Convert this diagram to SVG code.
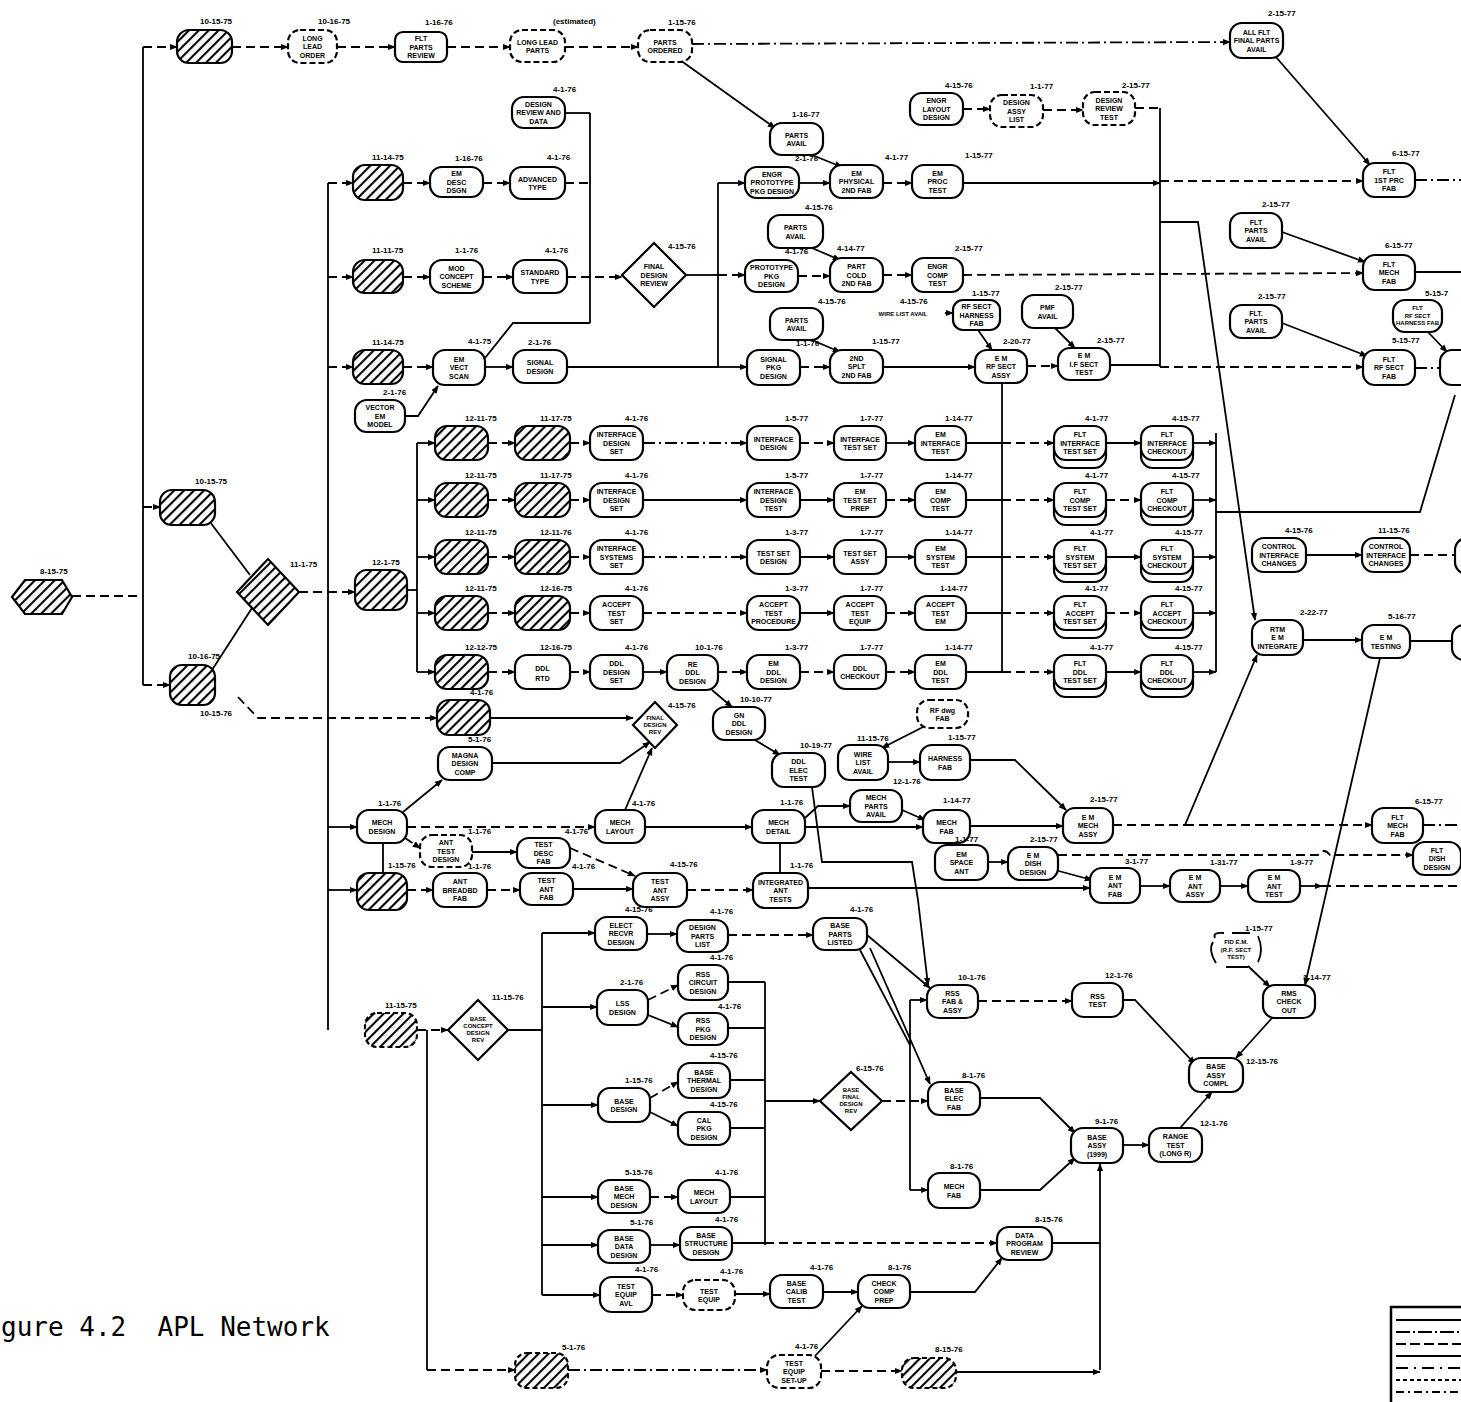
<svg xmlns="http://www.w3.org/2000/svg" width="1461" height="1402" viewBox="0 0 1461 1402">
<style>
.n{fill:#fff;stroke:#000;stroke-width:2.2}
.h{fill:url(#hatch);stroke:#000;stroke-width:2.2}
.dn{fill:#fff;stroke:#000;stroke-width:2.2;stroke-dasharray:6 3}
.hd{fill:url(#hatch);stroke:#000;stroke-width:2.2;stroke-dasharray:5 3}
.t{font-family:"Liberation Sans",Arial,sans-serif;font-weight:bold;font-size:7px;text-anchor:middle}
.ts{font-family:"Liberation Sans",Arial,sans-serif;font-weight:bold;font-size:6px;text-anchor:middle}
.dt{font-family:"Liberation Sans",Arial,sans-serif;font-weight:bold;font-size:8px}
.c path{fill:none;stroke:#000;stroke-width:1.8}
.c .d{stroke-dasharray:9 5}
.c .dd{stroke-dasharray:12 4 2 4}
.c .a{marker-end:url(#ar)}
</style>
<defs>
<pattern id="hatch" width="7" height="7" patternUnits="userSpaceOnUse" patternTransform="rotate(45)"><rect width="7" height="7" fill="#fff"/><line x1="1" y1="0" x2="1" y2="7" stroke="#000" stroke-width="2.2"/></pattern>
<marker id="ar" viewBox="0 0 10 10" refX="9" refY="5" markerWidth="8" markerHeight="8" markerUnits="userSpaceOnUse" orient="auto"><path d="M0,1 L10,5 L0,9 z"/></marker>
</defs>
<rect width="1461" height="1402" fill="#fff"/>

<g id="connectors" class="c">
<path class="d" d="M72,596 H143"/>
<path d="M143,47 V685"/>
<path class="d a" d="M143,47 H177"/>
<path class="d a" d="M232,47 H288"/>
<path class="d a" d="M337,47 H395"/>
<path class="d a" d="M447,47 H510"/>
<path class="d a" d="M565,47 H638"/>
<path class="dd a" d="M692,44 L1230,42"/>
<path class="a" d="M680,60 L775,128"/>
<path class="a" d="M1275,56 L1370,165"/>
<path class="d a" d="M143,507 H160"/>
<path class="d a" d="M143,685 H170"/>
<path d="M210,522 L250,575"/>
<path d="M212,670 L252,608"/>
<path class="d a" d="M238,697 L258,718 H437"/>
<path class="d" d="M299,592 H328"/>
<path d="M328,183 V1030"/>
<path class="d a" d="M328,183 H353"/>
<path class="d a" d="M328,277 H353"/>
<path class="d a" d="M328,367 H353"/>
<path class="d a" d="M328,592 H355"/>
<path class="d a" d="M403,183 H430"/>
<path class="d a" d="M483,183 H510"/>
<path class="d" d="M565,183 H590"/>
<path d="M590,113 V323"/>
<path d="M565,113 H590"/>
<path class="d a" d="M403,277 H430"/>
<path class="d a" d="M483,277 H513"/>
<path class="d a" d="M567,277 H622"/>
<path d="M485,358 L513,323 H590"/>
<path class="a" d="M405,416 H418 L438,386"/>
<path class="d a" d="M403,367 H433"/>
<path class="a" d="M485,367 H513"/>
<path d="M567,367 H718"/>
<path d="M686,275 H718"/>
<path d="M718,183 V367"/>
<path class="a" d="M718,183 H745"/>
<path class="d a" d="M718,275 H745"/>
<path class="a" d="M718,367 H747"/>
<path class="a" d="M812,155 L842,167"/>
<path class="a" d="M799,183 H830"/>
<path class="d a" d="M883,183 H912"/>
<path class="a" d="M963,183 H1160"/>
<path class="d a" d="M1160,181 H1363"/>
<path class="dd" d="M1415,180 H1461"/>
<path class="d a" d="M963,109 H990"/>
<path class="d a" d="M1043,110 H1083"/>
<path class="d" d="M1135,108 H1160"/>
<path d="M1160,108 V367"/>
<path class="a" d="M1160,222 H1198 L1255,620"/>
<path class="a" d="M812,248 L840,260"/>
<path class="d a" d="M798,276 H830"/>
<path class="d a" d="M883,275 H912"/>
<path class="d a" d="M963,275 L1363,273"/>
<path d="M1415,272 H1461"/>
<path class="a" d="M1282,232 L1365,262"/>
<path class="a" d="M812,340 L840,352"/>
<path class="d a" d="M800,367 H830"/>
<path class="a" d="M883,367 H975"/>
<path class="a" d="M978,330 L992,350"/>
<path class="d a" d="M945,313 H953"/>
<path class="d a" d="M1027,366 H1058"/>
<path class="a" d="M1055,328 L1075,348"/>
<path d="M1110,365 H1160"/>
<path class="d a" d="M1160,367 H1363"/>
<path class="a" d="M1282,323 L1367,356"/>
<path class="a" d="M1428,332 L1447,352"/>
<path class="dd" d="M1415,368 H1440"/>
<path d="M1002,383 V672"/>
<path d="M407,590 H417"/>
<path d="M417,443 V672"/>
<path class="a" d="M417,443 H435"/><path class="d a" d="M488,443 H515"/><path class="d a" d="M570,443 H590"/><path class="dd a" d="M643,443 H747"/><path class="d a" d="M800,443 H834"/><path class="a" d="M886,443 H915"/><path d="M966,443 H1002"/><path class="d a" d="M1002,443 H1054"/><path class="a" d="M1106,443 H1141"/><path class="a" d="M1193,443 H1216"/>
<path class="a" d="M417,500 H435"/><path class="d a" d="M488,500 H515"/><path class="d a" d="M570,500 H590"/><path class="a" d="M643,500 H747"/><path class="a" d="M800,500 H834"/><path class="d a" d="M886,500 H915"/><path d="M966,500 H1002"/><path class="d a" d="M1002,500 H1054"/><path class="d a" d="M1106,500 H1141"/><path class="a" d="M1193,500 H1216"/>
<path class="a" d="M417,557 H435"/><path class="d a" d="M488,557 H515"/><path class="d a" d="M570,557 H590"/><path class="dd a" d="M643,557 H747"/><path class="a" d="M800,557 H834"/><path class="a" d="M886,557 H915"/><path d="M966,557 H1002"/><path class="d a" d="M1002,557 H1054"/><path class="a" d="M1106,557 H1141"/><path class="a" d="M1193,557 H1216"/>
<path class="a" d="M417,613 H435"/><path class="d a" d="M488,613 H515"/><path class="d a" d="M570,613 H590"/><path class="d a" d="M643,613 H747"/><path class="a" d="M800,613 H834"/><path class="d a" d="M886,613 H915"/><path d="M966,613 H1002"/><path class="d a" d="M1002,613 H1054"/><path class="d a" d="M1106,613 H1141"/><path class="a" d="M1193,613 H1216"/>
<path class="a" d="M417,672 H435"/><path class="d a" d="M488,672 H515"/><path class="d a" d="M570,672 H590"/><path class="a" d="M643,672 H667"/><path class="d a" d="M718,672 H747"/><path class="d a" d="M800,672 H834"/><path class="d a" d="M886,672 H915"/><path d="M966,672 H1002"/><path class="d a" d="M1002,672 H1054"/><path class="a" d="M1106,672 H1141"/><path class="a" d="M1193,672 H1216"/>
<path d="M1216,433 V672"/>
<path d="M1216,512 H1420 L1455,395"/>
<path class="a" d="M712,690 L732,707"/>
<path class="a" d="M755,740 L780,755"/>
<path class="a" d="M812,787 L822,862 H912 L918,900 L928,985"/>
<path class="a" d="M1306,555 H1362"/>
<path class="d" d="M1410,555 H1455"/>
<path class="a" d="M1303,640 H1362"/>
<path d="M1410,641 H1452"/>
<path class="a" d="M1380,658 L1305,985"/>
<path class="d" d="M1113,825 H1185"/>
<path class="a" d="M1185,825 L1257,655"/>
<path class="d a" d="M1185,825 H1372"/>
<path class="dd" d="M1423,825 H1461"/>
<path class="a" d="M490,718 H633"/>
<path class="a" d="M492,763 H620 L650,742"/>
<path class="a" d="M403,812 L442,780"/>
<path class="a" d="M328,827 H357"/>
<path class="d a" d="M407,827 H595"/>
<path class="a" d="M625,810 L652,748"/>
<path class="a" d="M645,827 H752"/>
<path class="a" d="M805,827 H923"/>
<path class="a" d="M805,818 L818,806 H850"/>
<path class="a" d="M902,810 L925,820"/>
<path class="a" d="M970,826 H1063"/>
<path d="M780,843 V873"/>
<path d="M383,843 V873"/>
<path class="d a" d="M405,838 L420,848"/>
<path class="a" d="M472,852 H517"/>
<path class="d a" d="M570,848 L635,876"/>
<path class="a" d="M328,890 H357"/>
<path class="d a" d="M407,890 H433"/>
<path class="d a" d="M487,890 H520"/>
<path class="a" d="M573,889 H633"/>
<path class="d a" d="M687,890 H753"/>
<path class="a" d="M808,888 H1090"/>
<path class="a" d="M1140,886 H1170"/>
<path class="a" d="M1220,886 H1248"/>
<path class="a" d="M1300,886 H1322"/>
<path class="d" d="M1322,886 H1461"/>
<path class="a" d="M988,862 H1008"/>
<path class="d a" d="M1058,855 H1318 Q1324,847 1330,855 H1413"/>
<path class="a" d="M1055,870 L1092,880"/>
<path class="a" d="M888,762 H920"/>
<path class="a" d="M925,726 L882,748"/>
<path class="a" d="M970,760 H1015 L1066,810"/>
<path class="d a" d="M417,1030 H448"/>
<path d="M427,1030 V1370"/>
<path d="M508,1030 H542"/>
<path d="M542,933 V1295"/>
<path class="a" d="M542,933 H595"/>
<path class="a" d="M647,934 H677"/>
<path class="d a" d="M728,935 H813"/>
<path class="a" d="M542,1007 H597"/>
<path class="d a" d="M648,1000 L678,985"/>
<path class="a" d="M648,1015 L678,1027"/>
<path d="M728,982 H765"/>
<path d="M728,1028 H765"/>
<path d="M765,982 V1245"/>
<path class="a" d="M542,1105 H598"/>
<path class="d a" d="M650,1098 L678,1082"/>
<path class="a" d="M650,1112 L678,1126"/>
<path d="M730,1080 H765"/>
<path d="M730,1128 H765"/>
<path class="a" d="M765,1101 H820"/>
<path class="d a" d="M882,1101 H928"/>
<path d="M910,1000 V1190"/>
<path class="a" d="M910,1000 H927"/>
<path class="a" d="M910,1190 H928"/>
<path class="a" d="M867,935 L930,988"/>
<path d="M860,950 L910,1045"/>
<path class="a" d="M870,948 L930,1084"/>
<path class="d a" d="M978,1001 H1072"/>
<path class="a" d="M1123,1000 H1135 L1195,1064"/>
<path class="a" d="M1248,966 L1270,987"/>
<path class="a" d="M1272,1018 L1236,1058"/>
<path class="a" d="M980,1098 H1040 L1075,1133"/>
<path class="a" d="M980,1190 H1040 L1075,1158"/>
<path class="a" d="M1123,1145 H1149"/>
<path class="a" d="M1180,1128 L1212,1092"/>
<path class="a" d="M1100,1370 V1164"/>
<path class="a" d="M542,1197 H598"/>
<path class="d a" d="M650,1197 H678"/>
<path d="M730,1197 H765"/>
<path class="a" d="M542,1245 H598"/>
<path class="a" d="M650,1245 H680"/>
<path d="M732,1243 H765"/>
<path class="d a" d="M765,1243 H997"/>
<path d="M1052,1243 H1100"/>
<path class="a" d="M542,1295 H600"/>
<path class="d a" d="M652,1295 H683"/>
<path class="a" d="M735,1294 H770"/>
<path class="a" d="M823,1292 H858"/>
<path class="a" d="M910,1292 H975 L1002,1258"/>
<path class="d a" d="M427,1370 H515"/>
<path class="dd a" d="M568,1370 H767"/>
<path class="d a" d="M821,1371 H902"/>
<path class="a" d="M956,1372 H1100"/>
<path class="a" d="M815,1356 L862,1306"/>
</g>

<g id="nodes">
<g id="S"><polygon class="h" points="12,597 25,580 62,580 72,597 62,614 25,614"/><text class="dt" x="40" y="574">8-15-75</text></g>
<g id="L1"><rect class="h" x="160" y="490" width="55" height="35" rx="12"/><text class="dt" x="195" y="484">10-15-75</text></g>
<g id="L2"><rect class="h" x="170" y="665" width="45" height="40" rx="12"/><text class="dt" x="188" y="659">10-16-75</text><text class="dt" x="200" y="716">10-15-76</text></g>
<g id="LD"><polygon class="h" points="237,592 268,559 299,592 268,625"/><text class="dt" x="290" y="567">11-1-75</text></g>

<g id="T1"><rect class="h" x="177" y="30" width="55" height="33" rx="12"/><text class="dt" x="200" y="24">10-15-75</text></g>
<g id="T2"><rect class="dn" x="288" y="30" width="49" height="33" rx="12"/><text class="t" x="312.5" y="40.5">LONG<tspan x="312.5" dy="8.5">LEAD</tspan><tspan x="312.5" dy="8.5">ORDER</tspan></text><text class="dt" x="318" y="24">10-16-75</text></g>
<g id="T3"><rect class="n" x="395" y="32" width="52" height="30" rx="8"/><text class="t" x="421" y="41">FLT<tspan x="421" dy="8.5">PARTS</tspan><tspan x="421" dy="8.5">REVIEW</tspan></text><text class="dt" x="425" y="25">1-16-76</text></g>
<g id="T4"><rect class="dn" x="510" y="30" width="55" height="32" rx="12"/><text class="t" x="537.5" y="44.5">LONG LEAD<tspan x="537.5" dy="8.5">PARTS</tspan></text><text class="dt" x="553" y="24">(estimated)</text></g>
<g id="T5"><rect class="dn" x="638" y="30" width="54" height="32" rx="12"/><text class="t" x="665" y="44.5">PARTS<tspan x="665" dy="8.5">ORDERED</tspan></text><text class="dt" x="668" y="25">1-15-76</text></g>
<g id="T6"><rect class="n" x="1230" y="23" width="53" height="35" rx="12"/><text class="t" x="1256.5" y="34.5">ALL FLT<tspan x="1256.5" dy="8.5">FINAL PARTS</tspan><tspan x="1256.5" dy="8.5">AVAIL</tspan></text><text class="dt" x="1268" y="16">2-15-77</text></g>
<g id="PA1"><rect class="n" x="770" y="123" width="53" height="32" rx="12"/><text class="t" x="796.5" y="137.5">PARTS<tspan x="796.5" dy="8.5">AVAIL</tspan></text><text class="dt" x="792" y="117">1-16-77</text></g>
<g id="FLT1"><rect class="n" x="1363" y="163" width="52" height="34" rx="12"/><text class="t" x="1389" y="174">FLT<tspan x="1389" dy="8.5">1ST PRC</tspan><tspan x="1389" dy="8.5">FAB</tspan></text><text class="dt" x="1392" y="156">6-15-77</text></g>
<g id="U1"><rect class="n" x="910" y="93" width="53" height="32" rx="12"/><text class="t" x="936.5" y="103">ENGR<tspan x="936.5" dy="8.5">LAYOUT</tspan><tspan x="936.5" dy="8.5">DESIGN</tspan></text><text class="dt" x="945" y="88">4-15-76</text></g>
<g id="U2"><rect class="dn" x="990" y="95" width="53" height="32" rx="12"/><text class="t" x="1016.5" y="105">DESIGN<tspan x="1016.5" dy="8.5">ASSY</tspan><tspan x="1016.5" dy="8.5">LIST</tspan></text><text class="dt" x="1030" y="89">1-1-77</text></g>
<g id="U3"><rect class="dn" x="1083" y="92" width="52" height="33" rx="12"/><text class="t" x="1109" y="102.5">DESIGN<tspan x="1109" dy="8.5">REVIEW</tspan><tspan x="1109" dy="8.5">TEST</tspan></text><text class="dt" x="1122" y="88">2-15-77</text></g>

<g id="A1"><rect class="h" x="353" y="165" width="50" height="35" rx="12"/><text class="dt" x="372" y="160">11-14-75</text></g>
<g id="A2"><rect class="n" x="430" y="167" width="53" height="30" rx="12"/><text class="t" x="456.5" y="176">EM<tspan x="456.5" dy="8.5">DESC</tspan><tspan x="456.5" dy="8.5">DSGN</tspan></text><text class="dt" x="455" y="161">1-16-76</text></g>
<g id="A0"><rect class="n" x="512" y="97" width="53" height="31" rx="12"/><text class="t" x="538.5" y="106.5">DESIGN<tspan x="538.5" dy="8.5">REVIEW AND</tspan><tspan x="538.5" dy="8.5">DATA</tspan></text><text class="dt" x="553" y="92">4-1-76</text></g>
<g id="A3"><rect class="n" x="510" y="167" width="55" height="32" rx="12"/><text class="t" x="537.5" y="181.5">ADVANCED<tspan x="537.5" dy="8.5">TYPE</tspan></text><text class="dt" x="547" y="160">4-1-76</text></g>
<g id="A4"><rect class="n" x="745" y="167" width="54" height="31" rx="12"/><text class="t" x="772" y="176.5">ENGR<tspan x="772" dy="8.5">PROTOTYPE</tspan><tspan x="772" dy="8.5">PKG DESIGN</tspan></text><text class="dt" x="795" y="161">2-1-76</text></g>
<g id="A5"><rect class="n" x="830" y="165" width="53" height="33" rx="12"/><text class="t" x="856.5" y="175.5">EM<tspan x="856.5" dy="8.5">PHYSICAL</tspan><tspan x="856.5" dy="8.5">2ND FAB</tspan></text><text class="dt" x="885" y="160">4-1-77</text></g>
<g id="A6"><rect class="n" x="912" y="165" width="51" height="33" rx="12"/><text class="t" x="937.5" y="175.5">EM<tspan x="937.5" dy="8.5">PROC</tspan><tspan x="937.5" dy="8.5">TEST</tspan></text><text class="dt" x="965" y="158">1-15-77</text></g>

<g id="B1"><rect class="h" x="353" y="260" width="50" height="33" rx="12"/><text class="dt" x="372" y="253">11-11-75</text></g>
<g id="B2"><rect class="n" x="430" y="260" width="53" height="33" rx="12"/><text class="t" x="456.5" y="270.5">MOD<tspan x="456.5" dy="8.5">CONCEPT</tspan><tspan x="456.5" dy="8.5">SCHEME</tspan></text><text class="dt" x="455" y="253">1-1-76</text></g>
<g id="B3"><rect class="n" x="513" y="260" width="54" height="33" rx="12"/><text class="t" x="540" y="275">STANDARD<tspan x="540" dy="8.5">TYPE</tspan></text><text class="dt" x="545" y="253">4-1-76</text></g>
<g id="D1"><polygon class="n" points="622,275 654,243 686,275 654,307"/><text class="t" x="654" y="269">FINAL<tspan x="654" dy="8.5">DESIGN</tspan><tspan x="654" dy="8.5">REVIEW</tspan></text><text class="dt" x="668" y="249">4-15-76</text></g>
<g id="B4"><rect class="n" x="745" y="260" width="53" height="32" rx="12"/><text class="t" x="771.5" y="270">PROTOTYPE<tspan x="771.5" dy="8.5">PKG</tspan><tspan x="771.5" dy="8.5">DESIGN</tspan></text><text class="dt" x="785" y="254">4-1-76</text></g>
<g id="PA2"><rect class="n" x="768" y="215" width="55" height="33" rx="12"/><text class="t" x="795.5" y="230">PARTS<tspan x="795.5" dy="8.5">AVAIL</tspan></text><text class="dt" x="805" y="210">4-15-76</text></g>
<g id="B5"><rect class="n" x="830" y="258" width="53" height="34" rx="12"/><text class="t" x="856.5" y="269">PART<tspan x="856.5" dy="8.5">COLD</tspan><tspan x="856.5" dy="8.5">2ND FAB</tspan></text><text class="dt" x="837" y="251">4-14-77</text></g>
<g id="B6"><rect class="n" x="912" y="258" width="51" height="34" rx="12"/><text class="t" x="937.5" y="269">ENGR<tspan x="937.5" dy="8.5">COMP</tspan><tspan x="937.5" dy="8.5">TEST</tspan></text><text class="dt" x="955" y="251">2-15-77</text></g>
<g id="FPA2"><rect class="n" x="1230" y="213" width="52" height="35" rx="12"/><text class="t" x="1256" y="224.5">FLT<tspan x="1256" dy="8.5">PARTS</tspan><tspan x="1256" dy="8.5">AVAIL</tspan></text><text class="dt" x="1262" y="207">2-15-77</text></g>
<g id="FLT2"><rect class="n" x="1363" y="255" width="52" height="35" rx="12"/><text class="t" x="1389" y="266.5">FLT<tspan x="1389" dy="8.5">MECH</tspan><tspan x="1389" dy="8.5">FAB</tspan></text><text class="dt" x="1385" y="248">6-15-77</text></g>

<g id="C1"><rect class="h" x="353" y="350" width="50" height="34" rx="12"/><text class="dt" x="372" y="345">11-14-75</text></g>
<g id="C2"><rect class="n" x="433" y="350" width="52" height="35" rx="12"/><text class="t" x="459" y="361.5">EM<tspan x="459" dy="8.5">VECT</tspan><tspan x="459" dy="8.5">SCAN</tspan></text><text class="dt" x="468" y="344">4-1-75</text></g>
<g id="C0"><rect class="n" x="355" y="400" width="50" height="32" rx="12"/><text class="t" x="380" y="410">VECTOR<tspan x="380" dy="8.5">EM</tspan><tspan x="380" dy="8.5">MODEL</tspan></text><text class="dt" x="383" y="395">2-1-76</text></g>
<g id="C3"><rect class="n" x="513" y="350" width="54" height="33" rx="12"/><text class="t" x="540" y="365">SIGNAL<tspan x="540" dy="8.5">DESIGN</tspan></text><text class="dt" x="528" y="345">2-1-76</text></g>
<g id="C4"><rect class="n" x="747" y="350" width="53" height="35" rx="12"/><text class="t" x="773.5" y="361.5">SIGNAL<tspan x="773.5" dy="8.5">PKG</tspan><tspan x="773.5" dy="8.5">DESIGN</tspan></text><text class="dt" x="796" y="346">1-1-76</text></g>
<g id="PA3"><rect class="n" x="770" y="308" width="53" height="32" rx="12"/><text class="t" x="796.5" y="322.5">PARTS<tspan x="796.5" dy="8.5">AVAIL</tspan></text><text class="dt" x="818" y="304">4-15-76</text></g>
<g id="C5"><rect class="n" x="830" y="350" width="53" height="33" rx="12"/><text class="t" x="856.5" y="360.5">2ND<tspan x="856.5" dy="8.5">SPLT</tspan><tspan x="856.5" dy="8.5">2ND FAB</tspan></text><text class="dt" x="872" y="344">1-15-77</text></g>
<g id="ANN"><text class="dt" x="900" y="304">4-15-76</text><text class="ts" x="903" y="316">WIRE LIST AVAIL</text></g>
<g id="RFH"><rect class="n" x="953" y="300" width="47" height="30" rx="10"/><text class="t" x="976.5" y="309">RF SECT<tspan x="976.5" dy="8.5">HARNESS</tspan><tspan x="976.5" dy="8.5">FAB</tspan></text><text class="dt" x="972" y="296">1-15-77</text></g>
<g id="C6"><rect class="n" x="975" y="350" width="52" height="33" rx="12"/><text class="t" x="1001" y="360.5">E M<tspan x="1001" dy="8.5">RF SECT</tspan><tspan x="1001" dy="8.5">ASSY</tspan></text><text class="dt" x="1003" y="344">2-20-77</text></g>
<g id="PMF"><rect class="n" x="1022" y="295" width="51" height="33" rx="12"/><text class="t" x="1047.5" y="310">PMF<tspan x="1047.5" dy="8.5">AVAIL</tspan></text><text class="dt" x="1055" y="290">2-15-77</text></g>
<g id="C7"><rect class="n" x="1058" y="348" width="52" height="32" rx="12"/><text class="t" x="1084" y="358">E M<tspan x="1084" dy="8.5">I.F SECT</tspan><tspan x="1084" dy="8.5">TEST</tspan></text><text class="dt" x="1097" y="343">2-15-77</text></g>
<g id="FPA3"><rect class="n" x="1230" y="305" width="52" height="33" rx="12"/><text class="t" x="1256" y="315.5">FLT.<tspan x="1256" dy="8.5">PARTS</tspan><tspan x="1256" dy="8.5">AVAIL</tspan></text><text class="dt" x="1258" y="299">2-15-77</text></g>
<g id="FLT3"><rect class="n" x="1363" y="350" width="52" height="35" rx="12"/><text class="t" x="1389" y="361.5">FLT<tspan x="1389" dy="8.5">RF SECT</tspan><tspan x="1389" dy="8.5">FAB</tspan></text><text class="dt" x="1392" y="343">5-15-77</text></g>
<g id="FLTH"><rect class="n" x="1393" y="300" width="49" height="32" rx="12"/><text class="ts" x="1417.5" y="310">FLT<tspan x="1417.5" dy="7.5">RF SECT</tspan><tspan x="1417.5" dy="7.5">HARNESS FAB</tspan></text><text class="dt" x="1425" y="296">5-15-7</text></g>
<g id="FLT3b"><rect class="n" x="1440" y="350" width="45" height="35" rx="12"/></g>

<g id="E0"><rect class="h" x="355" y="570" width="52" height="40" rx="12"/><text class="dt" x="372" y="565">12-1-75</text></g>

<g id="R0a"><rect class="h" x="435" y="426" width="53" height="34" rx="12"/><text class="dt" x="465" y="421">12-11-75</text></g>
<g id="R0b"><rect class="h" x="515" y="426" width="55" height="34" rx="12"/><text class="dt" x="540" y="421">11-17-75</text></g>
<g id="R0c"><rect class="n" x="590" y="426" width="53" height="34" rx="12"/><text class="t" x="616.5" y="437">INTERFACE<tspan x="616.5" dy="8.5">DESIGN</tspan><tspan x="616.5" dy="8.5">SET</tspan></text><text class="dt" x="625" y="421">4-1-76</text></g>
<g id="R0d"><rect class="n" x="747" y="426" width="53" height="34" rx="12"/><text class="t" x="773.5" y="441.5">INTERFACE<tspan x="773.5" dy="8.5">DESIGN</tspan></text><text class="dt" x="785" y="421">1-5-77</text></g>
<g id="R0e"><rect class="n" x="834" y="426" width="52" height="34" rx="12"/><text class="t" x="860" y="441.5">INTERFACE<tspan x="860" dy="8.5">TEST SET</tspan></text><text class="dt" x="860" y="421">1-7-77</text></g>
<g id="R0f"><rect class="n" x="915" y="426" width="51" height="34" rx="12"/><text class="t" x="940.5" y="437">EM<tspan x="940.5" dy="8.5">INTERFACE</tspan><tspan x="940.5" dy="8.5">TEST</tspan></text><text class="dt" x="945" y="421">1-14-77</text></g>
<g id="R0g"><rect class="n" x="1054" y="434" width="52" height="34" rx="12"/><rect class="n" x="1054" y="426" width="52" height="34" rx="12"/><text class="t" x="1080" y="437">FLT<tspan x="1080" dy="8.5">INTERFACE</tspan><tspan x="1080" dy="8.5">TEST SET</tspan></text><text class="dt" x="1085" y="421">4-1-77</text></g>
<g id="R0h"><rect class="n" x="1141" y="434" width="52" height="34" rx="12"/><rect class="n" x="1141" y="426" width="52" height="34" rx="12"/><text class="t" x="1167" y="437">FLT<tspan x="1167" dy="8.5">INTERFACE</tspan><tspan x="1167" dy="8.5">CHECKOUT</tspan></text><text class="dt" x="1172" y="421">4-15-77</text></g>

<g id="R1a"><rect class="h" x="435" y="483" width="53" height="34" rx="12"/><text class="dt" x="465" y="478">12-11-75</text></g>
<g id="R1b"><rect class="h" x="515" y="483" width="55" height="34" rx="12"/><text class="dt" x="540" y="478">11-17-75</text></g>
<g id="R1c"><rect class="n" x="590" y="483" width="53" height="34" rx="12"/><text class="t" x="616.5" y="494">INTERFACE<tspan x="616.5" dy="8.5">DESIGN</tspan><tspan x="616.5" dy="8.5">SET</tspan></text><text class="dt" x="625" y="478">4-1-76</text></g>
<g id="R1d"><rect class="n" x="747" y="483" width="53" height="34" rx="12"/><text class="t" x="773.5" y="494">INTERFACE<tspan x="773.5" dy="8.5">DESIGN</tspan><tspan x="773.5" dy="8.5">TEST</tspan></text><text class="dt" x="785" y="478">1-5-77</text></g>
<g id="R1e"><rect class="n" x="834" y="483" width="52" height="34" rx="12"/><text class="t" x="860" y="494">EM<tspan x="860" dy="8.5">TEST SET</tspan><tspan x="860" dy="8.5">PREP</tspan></text><text class="dt" x="860" y="478">1-7-77</text></g>
<g id="R1f"><rect class="n" x="915" y="483" width="51" height="34" rx="12"/><text class="t" x="940.5" y="494">EM<tspan x="940.5" dy="8.5">COMP</tspan><tspan x="940.5" dy="8.5">TEST</tspan></text><text class="dt" x="945" y="478">1-14-77</text></g>
<g id="R1g"><rect class="n" x="1054" y="491" width="52" height="34" rx="12"/><rect class="n" x="1054" y="483" width="52" height="34" rx="12"/><text class="t" x="1080" y="494">FLT<tspan x="1080" dy="8.5">COMP</tspan><tspan x="1080" dy="8.5">TEST SET</tspan></text><text class="dt" x="1085" y="478">4-1-77</text></g>
<g id="R1h"><rect class="n" x="1141" y="491" width="52" height="34" rx="12"/><rect class="n" x="1141" y="483" width="52" height="34" rx="12"/><text class="t" x="1167" y="494">FLT<tspan x="1167" dy="8.5">COMP</tspan><tspan x="1167" dy="8.5">CHECKOUT</tspan></text><text class="dt" x="1172" y="478">4-15-77</text></g>

<g id="R2a"><rect class="h" x="435" y="540" width="53" height="34" rx="12"/><text class="dt" x="465" y="535">12-11-75</text></g>
<g id="R2b"><rect class="h" x="515" y="540" width="55" height="34" rx="12"/><text class="dt" x="540" y="535">12-11-76</text></g>
<g id="R2c"><rect class="n" x="590" y="540" width="53" height="34" rx="12"/><text class="t" x="616.5" y="551">INTERFACE<tspan x="616.5" dy="8.5">SYSTEMS</tspan><tspan x="616.5" dy="8.5">SET</tspan></text><text class="dt" x="625" y="535">4-1-76</text></g>
<g id="R2d"><rect class="n" x="747" y="540" width="53" height="34" rx="12"/><text class="t" x="773.5" y="555.5">TEST SET<tspan x="773.5" dy="8.5">DESIGN</tspan></text><text class="dt" x="785" y="535">1-3-77</text></g>
<g id="R2e"><rect class="n" x="834" y="540" width="52" height="34" rx="12"/><text class="t" x="860" y="555.5">TEST SET<tspan x="860" dy="8.5">ASSY</tspan></text><text class="dt" x="860" y="535">1-7-77</text></g>
<g id="R2f"><rect class="n" x="915" y="540" width="51" height="34" rx="12"/><text class="t" x="940.5" y="551">EM<tspan x="940.5" dy="8.5">SYSTEM</tspan><tspan x="940.5" dy="8.5">TEST</tspan></text><text class="dt" x="945" y="535">1-14-77</text></g>
<g id="R2g"><rect class="n" x="1054" y="548" width="52" height="34" rx="12"/><rect class="n" x="1054" y="540" width="52" height="34" rx="12"/><text class="t" x="1080" y="551">FLT<tspan x="1080" dy="8.5">SYSTEM</tspan><tspan x="1080" dy="8.5">TEST SET</tspan></text><text class="dt" x="1090" y="535">4-1-77</text></g>
<g id="R2h"><rect class="n" x="1141" y="548" width="52" height="34" rx="12"/><rect class="n" x="1141" y="540" width="52" height="34" rx="12"/><text class="t" x="1167" y="551">FLT<tspan x="1167" dy="8.5">SYSTEM</tspan><tspan x="1167" dy="8.5">CHECKOUT</tspan></text><text class="dt" x="1175" y="535">4-15-77</text></g>

<g id="R3a"><rect class="h" x="435" y="596" width="53" height="34" rx="12"/><text class="dt" x="465" y="591">12-11-75</text></g>
<g id="R3b"><rect class="h" x="515" y="596" width="55" height="34" rx="12"/><text class="dt" x="540" y="591">12-16-75</text></g>
<g id="R3c"><rect class="n" x="590" y="596" width="53" height="34" rx="12"/><text class="t" x="616.5" y="607">ACCEPT<tspan x="616.5" dy="8.5">TEST</tspan><tspan x="616.5" dy="8.5">SET</tspan></text><text class="dt" x="625" y="591">4-1-76</text></g>
<g id="R3d"><rect class="n" x="747" y="596" width="53" height="34" rx="12"/><text class="t" x="773.5" y="607">ACCEPT<tspan x="773.5" dy="8.5">TEST</tspan><tspan x="773.5" dy="8.5">PROCEDURE</tspan></text><text class="dt" x="785" y="591">1-3-77</text></g>
<g id="R3e"><rect class="n" x="834" y="596" width="52" height="34" rx="12"/><text class="t" x="860" y="607">ACCEPT<tspan x="860" dy="8.5">TEST</tspan><tspan x="860" dy="8.5">EQUIP</tspan></text><text class="dt" x="860" y="591">1-7-77</text></g>
<g id="R3f"><rect class="n" x="915" y="596" width="51" height="34" rx="12"/><text class="t" x="940.5" y="607">ACCEPT<tspan x="940.5" dy="8.5">TEST</tspan><tspan x="940.5" dy="8.5">EM</tspan></text><text class="dt" x="940" y="591">1-14-77</text></g>
<g id="R3g"><rect class="n" x="1054" y="604" width="52" height="34" rx="12"/><rect class="n" x="1054" y="596" width="52" height="34" rx="12"/><text class="t" x="1080" y="607">FLT<tspan x="1080" dy="8.5">ACCEPT</tspan><tspan x="1080" dy="8.5">TEST SET</tspan></text><text class="dt" x="1085" y="591">4-1-77</text></g>
<g id="R3h"><rect class="n" x="1141" y="604" width="52" height="34" rx="12"/><rect class="n" x="1141" y="596" width="52" height="34" rx="12"/><text class="t" x="1167" y="607">FLT<tspan x="1167" dy="8.5">ACCEPT</tspan><tspan x="1167" dy="8.5">CHECKOUT</tspan></text><text class="dt" x="1175" y="591">4-15-77</text></g>

<g id="R4a"><rect class="h" x="435" y="655" width="53" height="34" rx="12"/><text class="dt" x="465" y="650">12-12-75</text></g>
<g id="R4b"><rect class="n" x="515" y="655" width="55" height="34" rx="12"/><text class="t" x="542.5" y="670.5">DDL<tspan x="542.5" dy="10">RTD</tspan></text><text class="dt" x="540" y="650">12-16-75</text></g>
<g id="R4c"><rect class="n" x="590" y="655" width="53" height="34" rx="12"/><text class="t" x="616.5" y="666">DDL<tspan x="616.5" dy="8.5">DESIGN</tspan><tspan x="616.5" dy="8.5">SET</tspan></text><text class="dt" x="625" y="650">4-1-76</text></g>
<g id="REDDL"><rect class="n" x="667" y="655" width="51" height="35" rx="12"/><text class="t" x="692.5" y="666.5">RE<tspan x="692.5" dy="8.5">DDL</tspan><tspan x="692.5" dy="8.5">DESIGN</tspan></text><text class="dt" x="695" y="650">10-1-76</text></g>
<g id="R4d"><rect class="n" x="747" y="655" width="53" height="34" rx="12"/><text class="t" x="773.5" y="666">EM<tspan x="773.5" dy="8.5">DDL</tspan><tspan x="773.5" dy="8.5">DESIGN</tspan></text><text class="dt" x="785" y="650">1-3-77</text></g>
<g id="R4e"><rect class="n" x="834" y="655" width="52" height="34" rx="12"/><text class="t" x="860" y="670.5">DDL<tspan x="860" dy="8.5">CHECKOUT</tspan></text><text class="dt" x="860" y="650">1-7-77</text></g>
<g id="R4f"><rect class="n" x="915" y="655" width="51" height="34" rx="12"/><text class="t" x="940.5" y="666">EM<tspan x="940.5" dy="8.5">DDL</tspan><tspan x="940.5" dy="8.5">TEST</tspan></text><text class="dt" x="945" y="650">1-14-77</text></g>
<g id="R4g"><rect class="n" x="1054" y="663" width="52" height="34" rx="12"/><rect class="n" x="1054" y="655" width="52" height="34" rx="12"/><text class="t" x="1080" y="666">FLT<tspan x="1080" dy="8.5">DDL</tspan><tspan x="1080" dy="8.5">TEST SET</tspan></text><text class="dt" x="1090" y="650">4-1-77</text></g>
<g id="R4h"><rect class="n" x="1141" y="663" width="52" height="34" rx="12"/><rect class="n" x="1141" y="655" width="52" height="34" rx="12"/><text class="t" x="1167" y="666">FLT<tspan x="1167" dy="8.5">DDL</tspan><tspan x="1167" dy="8.5">CHECKOUT</tspan></text><text class="dt" x="1175" y="650">4-15-77</text></g>

<g id="CC"><rect class="n" x="1252" y="538" width="54" height="34" rx="12"/><text class="t" x="1279" y="549">CONTROL<tspan x="1279" dy="8.5">INTERFACE</tspan><tspan x="1279" dy="8.5">CHANGES</tspan></text><text class="dt" x="1285" y="533">4-15-76</text></g>
<g id="CC2"><rect class="n" x="1362" y="538" width="48" height="34" rx="12"/><text class="t" x="1386" y="549">CONTROL<tspan x="1386" dy="8.5">INTERFACE</tspan><tspan x="1386" dy="8.5">CHANGES</tspan></text><text class="dt" x="1378" y="533">11-15-76</text></g>
<g id="CCp"><rect class="n" x="1455" y="538" width="40" height="36" rx="12"/></g>
<g id="EMI"><rect class="n" x="1252" y="620" width="51" height="35" rx="12"/><text class="t" x="1277.5" y="631.5">RTM<tspan x="1277.5" dy="8.5">E M</tspan><tspan x="1277.5" dy="8.5">INTEGRATE</tspan></text><text class="dt" x="1300" y="615">2-22-77</text></g>
<g id="EM2"><rect class="n" x="1362" y="625" width="48" height="33" rx="12"/><text class="t" x="1386" y="640">E M<tspan x="1386" dy="8.5">TESTING</tspan></text><text class="dt" x="1388" y="619">5-16-77</text></g>
<g id="EM2p"><rect class="n" x="1452" y="625" width="40" height="35" rx="12"/></g>

<g id="F1"><rect class="h" x="437" y="700" width="53" height="35" rx="12"/><text class="dt" x="470" y="695">4-1-76</text></g>
<g id="F2"><rect class="n" x="438" y="747" width="54" height="33" rx="12"/><text class="t" x="465" y="757.5">MAGNA<tspan x="465" dy="8.5">DESIGN</tspan><tspan x="465" dy="8.5">COMP</tspan></text><text class="dt" x="468" y="742">5-1-76</text></g>
<g id="D2"><polygon class="n" points="633,725 655,702 677,725 655,748"/><text class="ts" x="655" y="720">FINAL<tspan x="655" dy="7">DESIGN</tspan><tspan x="655" dy="7">REV</tspan></text><text class="dt" x="668" y="708">4-15-76</text></g>
<g id="GN"><rect class="n" x="713" y="707" width="52" height="33" rx="12"/><text class="t" x="739" y="717.5">GN<tspan x="739" dy="8.5">DDL</tspan><tspan x="739" dy="8.5">DESIGN</tspan></text><text class="dt" x="740" y="702">10-10-77</text></g>
<g id="DDLE"><rect class="n" x="772" y="753" width="53" height="34" rx="12"/><text class="t" x="798.5" y="764">DDL<tspan x="798.5" dy="8.5">ELEC</tspan><tspan x="798.5" dy="8.5">TEST</tspan></text><text class="dt" x="800" y="748">10-19-77</text></g>
<g id="RFD"><rect class="dn" x="917" y="700" width="51" height="28" rx="12"/><text class="t" x="942.5" y="712.5">RF dwg<tspan x="942.5" dy="8.5">FAB</tspan></text></g>
<g id="WL"><rect class="n" x="838" y="745" width="50" height="35" rx="12"/><text class="t" x="863" y="756.5">WIRE<tspan x="863" dy="8.5">LIST</tspan><tspan x="863" dy="8.5">AVAIL</tspan></text><text class="dt" x="857" y="741">11-15-76</text></g>
<g id="HF"><rect class="n" x="920" y="745" width="50" height="35" rx="12"/><text class="t" x="945" y="761">HARNESS<tspan x="945" dy="8.5">FAB</tspan></text><text class="dt" x="948" y="740">1-15-77</text></g>
<g id="MD"><rect class="n" x="357" y="810" width="50" height="33" rx="12"/><text class="t" x="382" y="825">MECH<tspan x="382" dy="8.5">DESIGN</tspan></text><text class="dt" x="378" y="806">1-1-76</text></g>
<g id="ML"><rect class="n" x="595" y="810" width="50" height="33" rx="12"/><text class="t" x="620" y="825">MECH<tspan x="620" dy="8.5">LAYOUT</tspan></text><text class="dt" x="632" y="806">4-1-76</text></g>
<g id="MDT"><rect class="n" x="752" y="810" width="53" height="33" rx="12"/><text class="t" x="778.5" y="825">MECH<tspan x="778.5" dy="8.5">DETAIL</tspan></text><text class="dt" x="780" y="805">1-1-76</text></g>
<g id="MP"><rect class="n" x="850" y="790" width="52" height="32" rx="12"/><text class="t" x="876" y="800">MECH<tspan x="876" dy="8.5">PARTS</tspan><tspan x="876" dy="8.5">AVAIL</tspan></text><text class="dt" x="893" y="784">12-1-76</text></g>
<g id="MF"><rect class="n" x="923" y="810" width="47" height="33" rx="12"/><text class="t" x="946.5" y="825">MECH<tspan x="946.5" dy="8.5">FAB</tspan></text><text class="dt" x="943" y="803">1-14-77</text></g>
<g id="EMA"><rect class="n" x="1063" y="808" width="50" height="35" rx="12"/><text class="t" x="1088" y="819.5">E M<tspan x="1088" dy="8.5">MECH</tspan><tspan x="1088" dy="8.5">ASSY</tspan></text><text class="dt" x="1090" y="802">2-15-77</text></g>
<g id="FMF"><rect class="n" x="1372" y="808" width="51" height="35" rx="12"/><text class="t" x="1397.5" y="819.5">FLT<tspan x="1397.5" dy="8.5">MECH</tspan><tspan x="1397.5" dy="8.5">FAB</tspan></text><text class="dt" x="1415" y="804">6-15-77</text></g>
<g id="TF"><rect class="dn" x="420" y="835" width="52" height="32" rx="12"/><text class="t" x="446" y="845">ANT<tspan x="446" dy="8.5">TEST</tspan><tspan x="446" dy="8.5">DESIGN</tspan></text><text class="dt" x="468" y="834">1-1-76</text></g>
<g id="TD"><rect class="n" x="517" y="838" width="53" height="30" rx="12"/><text class="t" x="543.5" y="847">TEST<tspan x="543.5" dy="8.5">DESC</tspan><tspan x="543.5" dy="8.5">FAB</tspan></text><text class="dt" x="565" y="834">4-1-76</text></g>
<g id="H2"><rect class="h" x="357" y="873" width="50" height="37" rx="12"/><text class="dt" x="388" y="868">1-15-76</text></g>
<g id="AF"><rect class="n" x="433" y="873" width="54" height="34" rx="12"/><text class="t" x="460" y="884">ANT<tspan x="460" dy="8.5">BREADBD</tspan><tspan x="460" dy="8.5">FAB</tspan></text><text class="dt" x="468" y="869">1-1-76</text></g>
<g id="TAF"><rect class="n" x="520" y="873" width="53" height="32" rx="12"/><text class="t" x="546.5" y="883">TEST<tspan x="546.5" dy="8.5">ANT</tspan><tspan x="546.5" dy="8.5">FAB</tspan></text><text class="dt" x="572" y="869">4-1-76</text></g>
<g id="TAA"><rect class="n" x="633" y="873" width="54" height="34" rx="12"/><text class="t" x="660" y="884">TEST<tspan x="660" dy="8.5">ANT</tspan><tspan x="660" dy="8.5">ASSY</tspan></text><text class="dt" x="670" y="867">4-15-76</text></g>
<g id="IAT"><rect class="n" x="753" y="873" width="55" height="35" rx="12"/><text class="t" x="780.5" y="884.5">INTEGRATED<tspan x="780.5" dy="8.5">ANT</tspan><tspan x="780.5" dy="8.5">TESTS</tspan></text><text class="dt" x="790" y="868">1-1-76</text></g>
<g id="ESA"><rect class="n" x="935" y="845" width="53" height="35" rx="12"/><text class="t" x="961.5" y="856.5">EM<tspan x="961.5" dy="8.5">SPACE</tspan><tspan x="961.5" dy="8.5">ANT</tspan></text><text class="dt" x="955" y="842">1-1-77</text></g>
<g id="ESD"><rect class="n" x="1008" y="847" width="50" height="33" rx="12"/><text class="t" x="1033" y="857.5">E M<tspan x="1033" dy="8.5">DISH</tspan><tspan x="1033" dy="8.5">DESIGN</tspan></text><text class="dt" x="1030" y="842">2-15-77</text></g>
<g id="EAF"><rect class="n" x="1090" y="868" width="50" height="35" rx="12"/><text class="t" x="1115" y="879.5">E M<tspan x="1115" dy="8.5">ANT</tspan><tspan x="1115" dy="8.5">FAB</tspan></text><text class="dt" x="1125" y="864">3-1-77</text></g>
<g id="EAA"><rect class="n" x="1170" y="870" width="50" height="32" rx="12"/><text class="t" x="1195" y="880">E M<tspan x="1195" dy="8.5">ANT</tspan><tspan x="1195" dy="8.5">ASSY</tspan></text><text class="dt" x="1210" y="865">1-31-77</text></g>
<g id="EAT"><rect class="n" x="1248" y="870" width="52" height="32" rx="12"/><text class="t" x="1274" y="880">E M<tspan x="1274" dy="8.5">ANT</tspan><tspan x="1274" dy="8.5">TEST</tspan></text><text class="dt" x="1290" y="865">1-9-77</text></g>
<g id="FDD"><rect class="n" x="1413" y="842" width="48" height="33" rx="12"/><text class="t" x="1437" y="852.5">FLT<tspan x="1437" dy="8.5">DISH</tspan><tspan x="1437" dy="8.5">DESIGN</tspan></text></g>

<g id="BH"><rect class="hd" x="365" y="1013" width="52" height="34" rx="12"/><text class="dt" x="385" y="1008">11-15-75</text></g>
<g id="D3"><polygon class="n" points="448,1030 478,1000 508,1030 478,1060"/><text class="ts" x="478" y="1021">BASE<tspan x="478" dy="7">CONCEPT</tspan><tspan x="478" dy="7">DESIGN</tspan><tspan x="478" dy="7">REV</tspan></text><text class="dt" x="492" y="1000">11-15-76</text></g>
<g id="ERD"><rect class="n" x="595" y="917" width="52" height="33" rx="12"/><text class="t" x="621" y="927.5">ELECT<tspan x="621" dy="8.5">RECVR</tspan><tspan x="621" dy="8.5">DESIGN</tspan></text><text class="dt" x="625" y="912">4-15-76</text></g>
<g id="PL"><rect class="n" x="677" y="920" width="51" height="32" rx="12"/><text class="t" x="702.5" y="930">DESIGN<tspan x="702.5" dy="8.5">PARTS</tspan><tspan x="702.5" dy="8.5">LIST</tspan></text><text class="dt" x="710" y="914">4-1-76</text></g>
<g id="BPL"><rect class="n" x="813" y="918" width="54" height="32" rx="12"/><text class="t" x="840" y="928">BASE<tspan x="840" dy="8.5">PARTS</tspan><tspan x="840" dy="8.5">LISTED</tspan></text><text class="dt" x="850" y="912">4-1-76</text></g>
<g id="LSS"><rect class="n" x="597" y="990" width="51" height="35" rx="12"/><text class="t" x="622.5" y="1006">LSS<tspan x="622.5" dy="8.5">DESIGN</tspan></text><text class="dt" x="620" y="985">2-1-76</text></g>
<g id="LS1"><rect class="n" x="678" y="965" width="50" height="35" rx="12"/><text class="t" x="703" y="976.5">RSS<tspan x="703" dy="8.5">CIRCUIT</tspan><tspan x="703" dy="8.5">DESIGN</tspan></text><text class="dt" x="710" y="960">4-1-76</text></g>
<g id="LS2"><rect class="n" x="678" y="1013" width="50" height="32" rx="12"/><text class="t" x="703" y="1023">RSS<tspan x="703" dy="8.5">PKG</tspan><tspan x="703" dy="8.5">DESIGN</tspan></text><text class="dt" x="718" y="1009">4-1-76</text></g>
<g id="BD"><rect class="n" x="598" y="1088" width="52" height="34" rx="12"/><text class="t" x="624" y="1103.5">BASE<tspan x="624" dy="8.5">DESIGN</tspan></text><text class="dt" x="625" y="1083">1-15-76</text></g>
<g id="BD1"><rect class="n" x="678" y="1063" width="52" height="35" rx="12"/><text class="t" x="704" y="1074.5">BASE<tspan x="704" dy="8.5">THERMAL</tspan><tspan x="704" dy="8.5">DESIGN</tspan></text><text class="dt" x="710" y="1058">4-15-76</text></g>
<g id="BD2"><rect class="n" x="678" y="1112" width="52" height="33" rx="12"/><text class="t" x="704" y="1122.5">CAL<tspan x="704" dy="8.5">PKG</tspan><tspan x="704" dy="8.5">DESIGN</tspan></text><text class="dt" x="710" y="1107">4-15-76</text></g>
<g id="D4"><polygon class="n" points="820,1101 851,1072 882,1101 851,1130"/><text class="ts" x="851" y="1092">BASE<tspan x="851" dy="7">FINAL</tspan><tspan x="851" dy="7">DESIGN</tspan><tspan x="851" dy="7">REV</tspan></text><text class="dt" x="856" y="1071">6-15-76</text></g>
<g id="RSS"><rect class="n" x="927" y="985" width="51" height="33" rx="12"/><text class="t" x="952.5" y="995.5">RSS<tspan x="952.5" dy="8.5">FAB &amp;</tspan><tspan x="952.5" dy="8.5">ASSY</tspan></text><text class="dt" x="958" y="980">10-1-76</text></g>
<g id="RST"><rect class="n" x="1072" y="983" width="51" height="34" rx="12"/><text class="t" x="1097.5" y="998.5">RSS<tspan x="1097.5" dy="8.5">TEST</tspan></text><text class="dt" x="1105" y="978">12-1-76</text></g>
<g id="RMS"><rect class="n" x="1263" y="985" width="52" height="33" rx="12"/><text class="t" x="1289" y="995.5">RMS<tspan x="1289" dy="8.5">CHECK</tspan><tspan x="1289" dy="8.5">OUT</tspan></text><text class="dt" x="1303" y="980">1-14-77</text></g>
<g id="FID"><path d="M1215,938 Q1212,932 1224,933 M1232,933 H1250 M1258,936 Q1264,950 1258,962 M1248,967 H1226 M1216,963 Q1208,950 1213,942" fill="none" stroke="#000" stroke-width="1.8"/><text class="ts" x="1236" y="944">FID E.M.<tspan x="1236" dy="7.5">(R.F. SECT</tspan><tspan x="1236" dy="7.5">TEST)</tspan></text><text class="dt" x="1245" y="931">1-15-77</text></g>
<g id="BAC"><rect class="n" x="1189" y="1058" width="54" height="34" rx="12"/><text class="t" x="1216" y="1069">BASE<tspan x="1216" dy="8.5">ASSY</tspan><tspan x="1216" dy="8.5">COMPL</tspan></text><text class="dt" x="1246" y="1064">12-15-76</text></g>
<g id="BEF"><rect class="n" x="928" y="1082" width="52" height="33" rx="12"/><text class="t" x="954" y="1092.5">BASE<tspan x="954" dy="8.5">ELEC</tspan><tspan x="954" dy="8.5">FAB</tspan></text><text class="dt" x="962" y="1078">8-1-76</text></g>
<g id="MFB"><rect class="n" x="928" y="1173" width="52" height="35" rx="12"/><text class="t" x="954" y="1189">MECH<tspan x="954" dy="8.5">FAB</tspan></text><text class="dt" x="950" y="1169">8-1-76</text></g>
<g id="BA"><rect class="n" x="1071" y="1128" width="52" height="35" rx="12"/><text class="t" x="1097" y="1139.5">BASE<tspan x="1097" dy="8.5">ASSY</tspan><tspan x="1097" dy="8.5">(1999)</tspan></text><text class="dt" x="1095" y="1124">9-1-76</text></g>
<g id="RT"><rect class="n" x="1149" y="1128" width="53" height="34" rx="12"/><text class="t" x="1175.5" y="1139">RANGE<tspan x="1175.5" dy="8.5">TEST</tspan><tspan x="1175.5" dy="8.5">(LONG R)</tspan></text><text class="dt" x="1200" y="1126">12-1-76</text></g>
<g id="BMD"><rect class="n" x="598" y="1180" width="52" height="33" rx="12"/><text class="t" x="624" y="1190.5">BASE<tspan x="624" dy="8.5">MECH</tspan><tspan x="624" dy="8.5">DESIGN</tspan></text><text class="dt" x="625" y="1175">5-15-76</text></g>
<g id="BML"><rect class="n" x="678" y="1180" width="52" height="33" rx="12"/><text class="t" x="704" y="1195">MECH<tspan x="704" dy="8.5">LAYOUT</tspan></text><text class="dt" x="715" y="1175">4-1-76</text></g>
<g id="BSD"><rect class="n" x="598" y="1230" width="52" height="33" rx="12"/><text class="t" x="624" y="1240.5">BASE<tspan x="624" dy="8.5">DATA</tspan><tspan x="624" dy="8.5">DESIGN</tspan></text><text class="dt" x="630" y="1225">5-1-76</text></g>
<g id="BSS"><rect class="n" x="680" y="1227" width="52" height="33" rx="12"/><text class="t" x="706" y="1237.5">BASE<tspan x="706" dy="8.5">STRUCTURE</tspan><tspan x="706" dy="8.5">DESIGN</tspan></text><text class="dt" x="715" y="1222">4-1-76</text></g>
<g id="DPR"><rect class="n" x="997" y="1227" width="55" height="33" rx="12"/><text class="t" x="1024.5" y="1237.5">DATA<tspan x="1024.5" dy="8.5">PROGRAM</tspan><tspan x="1024.5" dy="8.5">REVIEW</tspan></text><text class="dt" x="1035" y="1222">8-15-76</text></g>
<g id="TAV"><rect class="n" x="600" y="1277" width="52" height="35" rx="12"/><text class="t" x="626" y="1288.5">TEST<tspan x="626" dy="8.5">EQUIP</tspan><tspan x="626" dy="8.5">AVL</tspan></text><text class="dt" x="635" y="1272">4-1-76</text></g>
<g id="TX"><rect class="dn" x="683" y="1280" width="52" height="30" rx="12"/><text class="t" x="709" y="1293.5">TEST<tspan x="709" dy="8.5">EQUIP</tspan></text><text class="dt" x="720" y="1274">4-1-76</text></g>
<g id="BX"><rect class="n" x="770" y="1275" width="53" height="33" rx="12"/><text class="t" x="796.5" y="1285.5">BASE<tspan x="796.5" dy="8.5">CALIB</tspan><tspan x="796.5" dy="8.5">TEST</tspan></text><text class="dt" x="810" y="1270">4-1-76</text></g>
<g id="CCP"><rect class="n" x="858" y="1275" width="52" height="33" rx="12"/><text class="t" x="884" y="1285.5">CHECK<tspan x="884" dy="8.5">COMP</tspan><tspan x="884" dy="8.5">PREP</tspan></text><text class="dt" x="888" y="1270">8-1-76</text></g>
<g id="BB1"><rect class="hd" x="515" y="1353" width="53" height="35" rx="12"/><text class="dt" x="562" y="1350">5-1-76</text></g>
<g id="BB2"><rect class="dn" x="767" y="1355" width="54" height="33" rx="12"/><text class="t" x="794" y="1365.5">TEST<tspan x="794" dy="8.5">EQUIP</tspan><tspan x="794" dy="8.5">SET-UP</tspan></text><text class="dt" x="795" y="1349">4-1-76</text></g>
<g id="BB3"><rect class="hd" x="902" y="1358" width="54" height="30" rx="12"/><text class="dt" x="935" y="1352">8-15-76</text></g>
</g>

<g id="legend" fill="none" stroke="#000">
<rect x="1391" y="1307" width="80" height="100" stroke-width="2.5"/>
<path d="M1396,1320 H1461" stroke-width="1.8"/>
<path d="M1396,1332 H1461" stroke-width="1.8" stroke-dasharray="14 3 2 3"/>
<path d="M1396,1344 H1461" stroke-width="1.8" stroke-dasharray="10 4"/>
<path d="M1396,1356 H1461" stroke-width="1.8"/>
<path d="M1396,1368 H1461" stroke-width="1.8" stroke-dasharray="12 6 2 6"/>
<path d="M1396,1380 H1461" stroke-width="1.8" stroke-dasharray="4 3"/>
<path d="M1396,1392 H1461" stroke-width="1.8" stroke-dasharray="8 4 2 4"/>
</g>
<text x="1" y="1336" xml:space="preserve" font-family="DejaVu Sans Mono, monospace" font-size="26">gure 4.2  APL Network</text>
</svg>
